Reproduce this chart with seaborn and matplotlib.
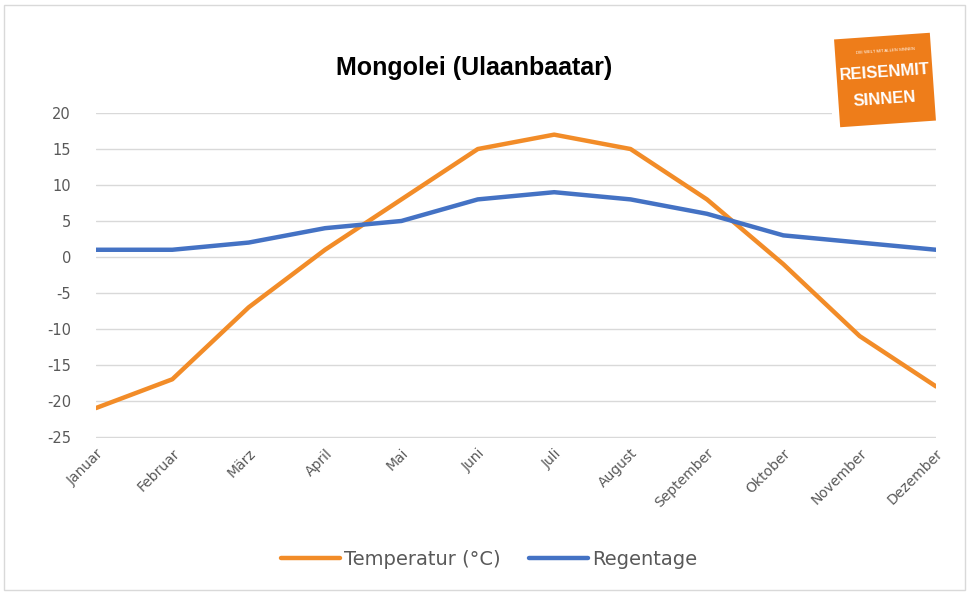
import matplotlib
matplotlib.use("Agg")
import matplotlib.pyplot as plt
import matplotlib.patches as mpatches
import matplotlib.transforms as mtransforms
import seaborn as sns
import pandas as pd

months = ["Januar", "Februar", "März", "April", "Mai", "Juni", "Juli",
          "August", "September", "Oktober", "November", "Dezember"]
temperatur = [-21, -17, -7, 1, 8, 15, 17, 15, 8, -1, -11, -18]
regentage = [1, 1, 2, 4, 5, 8, 9, 8, 6, 3, 2, 1]
series_names = ["Temperatur (°C)", "Regentage"]
yticks = [20, 15, 10, 5, 0, -5, -10, -15, -20, -25]
title = "Mongolei (Ulaanbaatar)"

sns.set_theme(style="white")
plt.rcParams['font.family'] = ['DejaVu Sans']
plt.rcParams['axes.unicode_minus'] = False

narrow = ["Liberation Sans", "DejaVu Sans"]

df = pd.DataFrame({
    "idx": list(range(len(months))) * 2,
    "value": temperatur + regentage,
    "series": [series_names[0]] * len(months) + [series_names[1]] * len(months),
})

fig = plt.figure(figsize=(9.69, 5.95), dpi=100)
ax = fig.add_axes([0.099, 0.264, 0.867, 0.546])

palette = {series_names[0]: "#F28C28", series_names[1]: "#4472C4"}
sns.lineplot(data=df, x="idx", y="value", hue="series", palette=palette,
             linewidth=3.2, ax=ax, legend=True, zorder=3)

ax.set_xlim(0, len(months) - 1)
ax.set_ylim(-25.15, 20)
ax.set_yticks(yticks)
ax.set_xticks(range(len(months)))
ax.set_xticklabels(months, rotation=45, ha="right", rotation_mode="anchor",
                   fontsize=10, color="#595959")
ax.tick_params(axis="y", labelsize=10.5, colors="#595959", length=0, pad=18)
ax.tick_params(axis="x", length=0, pad=6)
ax.set_xlabel("")
ax.set_ylabel("")
for s in ax.spines.values():
    s.set_visible(False)
ax.yaxis.grid(True, color="#D9D9D9", linewidth=1)
ax.xaxis.grid(False)
ax.set_axisbelow(True)

leg = ax.legend(loc="center", bbox_to_anchor=(0.468, -0.373), ncol=2,
                frameon=False, fontsize=14, handlelength=3.0, handletextpad=0.2,
                columnspacing=1.5)
for t in leg.get_texts():
    t.set_color("#595959")

fig.text(0.489, 0.886, title, ha="center", va="center", fontsize=18,
         fontweight="bold", family=narrow, color="black")

# Figure border
fig.patches.append(mpatches.Rectangle((0.004, 0.008), 0.992, 0.984,
                                      transform=fig.transFigure, fill=False,
                                      edgecolor="#D9D9D9", linewidth=1))

# Logo
cx, cy = 885 / 969, 1 - 80 / 595
tr = mtransforms.Affine2D().rotate_deg_around(885, 595 - 80, 4) + mtransforms.IdentityTransform()
fig.patches.append(mpatches.Rectangle((832 / 969, 1 - 140 / 595), 105 / 969, 110 / 595,
                                      transform=fig.transFigure, facecolor="white",
                                      edgecolor="none", zorder=5))
logo = mpatches.Rectangle((885 - 48, 595 - 80 - 44), 96, 88, facecolor="#EE7D1A",
                          edgecolor="none", transform=tr, zorder=6)
fig.patches.append(logo)
fig.text(cx, cy + 0.048, "DIE WELT MIT ALLEN SINNEN", ha="center", va="center",
         fontsize=3, color="white", rotation=4, zorder=7, family=narrow)
fig.text(cx, cy + 0.013, "REISENMIT", ha="center", va="center", fontsize=12,
         fontweight="bold", family=narrow, color="white", rotation=4, zorder=7)
fig.text(cx, cy - 0.033, "SINNEN", ha="center", va="center", fontsize=12,
         fontweight="bold", family=narrow, color="white", rotation=4, zorder=7)

fig.savefig("out.png", dpi=100)
